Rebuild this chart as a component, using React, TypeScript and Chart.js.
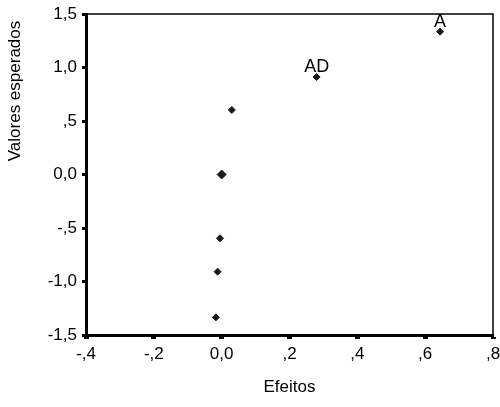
import React, { useEffect, useRef } from "react";
import { Chart, registerables } from "chart.js";

Chart.register(...registerables);

const effectValues = [0.644, 0.28, 0.03, 0.0, -0.005, -0.012, -0.017];
const expectedValues = [1.335, 0.911, 0.603, 0.0, -0.596, -0.908, -1.335];
const pointLabels = ["A", "AD", "", "", "", "", ""];
const pointSizes = [3.5, 3.5, 3.5, 4.5, 3.5, 3.5, 3.5];

const xTitle = "Efeitos";
const yTitle = "Valores esperados";

const FONT = "'Liberation Sans', Arial, sans-serif";

function fmt(v: number): string {
  const r = Math.round(v * 10) / 10;
  if (Math.abs(r) < 1e-9) return "0,0";
  let s = Math.abs(r).toFixed(1).replace(".", ",");
  if (s.startsWith("0,")) s = s.slice(1);
  return (r < 0 ? "-" : "") + s;
}

const decorPlugin = {
  id: "decor",
  afterDraw(chart: any) {
    const { ctx, chartArea } = chart;
    const { left, right, top, bottom } = chartArea;
    ctx.save();
    ctx.strokeStyle = "#000";
    ctx.lineWidth = 1.5;
    ctx.beginPath();
    ctx.moveTo(left, top);
    ctx.lineTo(right, top);
    ctx.lineTo(right, bottom);
    ctx.stroke();
    const meta = chart.getDatasetMeta(0);
    ctx.fillStyle = "#000";
    ctx.font = `18px ${FONT}`;
    ctx.textAlign = "center";
    ctx.textBaseline = "alphabetic";
    meta.data.forEach((el: any, i: number) => {
      const lab = pointLabels[i];
      if (lab) ctx.fillText(lab, el.x, el.y - 5);
    });
    ctx.font = `17px ${FONT}`;
    ctx.textAlign = "center";
    ctx.textBaseline = "middle";
    ctx.fillText(xTitle, (left + right) / 2, 387);
    ctx.translate(15, 91);
    ctx.rotate(-Math.PI / 2);
    ctx.fillText(yTitle, 0, 0);
    ctx.restore();
  },
};

export default function App() {
  const ref = useRef<HTMLCanvasElement>(null);
  useEffect(() => {
    if (!ref.current) return;
    const data = effectValues.map((x, i) => ({ x, y: expectedValues[i] }));
    const chart = new Chart(ref.current, {
      type: "scatter",
      data: {
        datasets: [
          {
            data,
            pointStyle: "rectRot",
            pointRadius: pointSizes,
            pointBackgroundColor: "#1a1a1a",
            pointBorderColor: "#1a1a1a",
            pointBorderWidth: 1,
          },
        ],
      },
      options: {
        animation: false,
        responsive: false,
        layout: { padding: { left: 0, top: 14, right: 7, bottom: 0 } },
        plugins: {
          legend: { display: false },
          tooltip: { enabled: false },
        },
        scales: {
          x: {
            type: "linear",
            min: -0.4,
            max: 0.8,
            border: { display: true, color: "#000", width: 3 },
            grid: {
              drawOnChartArea: false,
              drawTicks: true,
              tickLength: 4,
              tickWidth: 5,
              tickColor: "#000",
            },
            ticks: {
              stepSize: 0.2,
              color: "#000",
              padding: 5,
              font: { family: FONT, size: 17 },
              maxRotation: 0,
              callback: (v: any) => fmt(Number(v)),
            },
            afterFit: (s: any) => {
              s.height = 72;
              s.paddingLeft = 0;
              s.paddingRight = 0;
            },
          },
          y: {
            type: "linear",
            min: -1.5,
            max: 1.5,
            border: { display: true, color: "#000", width: 3 },
            grid: {
              drawOnChartArea: false,
              drawTicks: true,
              tickLength: 4,
              tickWidth: 3,
              tickColor: "#000",
            },
            ticks: {
              stepSize: 0.5,
              color: "#000",
              padding: 5,
              font: { family: FONT, size: 17 },
              callback: (v: any) => fmt(Number(v)),
            },
            afterFit: (s: any) => {
              s.width = 86;
              s.paddingTop = 0;
              s.paddingBottom = 0;
            },
          },
        },
      },
      plugins: [decorPlugin],
    });
    return () => chart.destroy();
  }, []);
  return (
    <div style={{ position: "absolute", left: 0, top: 0, width: 500, height: 407, background: "#fff" }}>
      <canvas ref={ref} width={500} height={407} style={{ display: "block" }} />
    </div>
  );
}
